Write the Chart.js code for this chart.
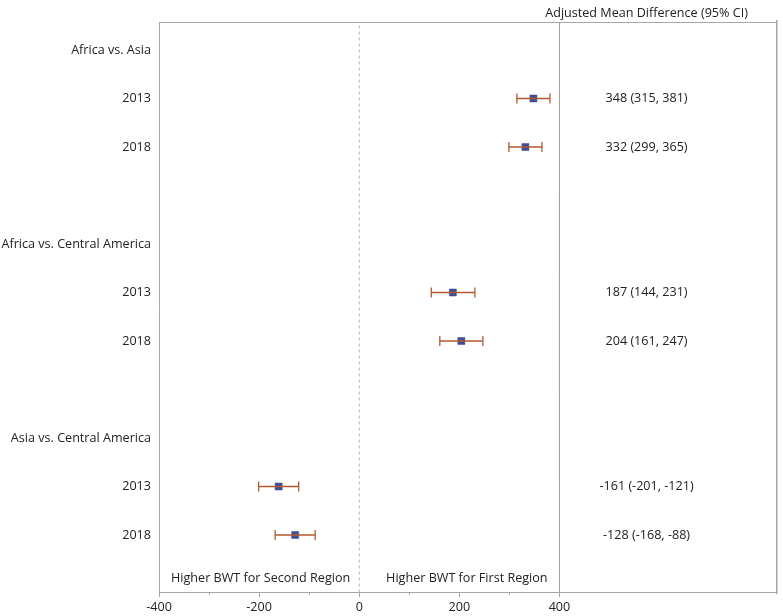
<!DOCTYPE html>
<html>
<head>
<meta charset="utf-8">
<script src="https://cdn.jsdelivr.net/npm/chart.js@4"></script>
<style>
  body { margin: 0; background: #fff; overflow: hidden; }
  canvas { display: block; }
</style>
</head>
<body>
<canvas id="forest" width="783" height="616"></canvas>
<script>
// comparisons and years
const groups = ['Africa vs. Asia', 'Africa vs. Central America', 'Asia vs. Central America'];
const years = ['2013', '2018'];

// adjusted mean difference and 95% CI, in order group/year
const meanDiff = [348, 332, 187, 204, -161, -128];
const lowerCI = [315, 299, 144, 161, -201, -168];
const upperCI = [381, 365, 231, 247, -121, -88];

const xTicks = [-400, -200, 0, 200, 400];
const xMinorTicks = [-300, -100, 100, 300];
const xMin = -400;
const xMax = 834;

const header = 'Adjusted Mean Difference (95% CI)';
const leftNote = 'Higher BWT for Second Region';
const rightNote = 'Higher BWT for First Region';

const fontFamily = '"Open Sans", "DejaVu Sans", sans-serif';
const fontSize = 12.6;
const textColor = '#222222';
const frameColor = '#a6a6a6';

// row layout: group heading, then one row per year, then a blank row
const rowLabels = [];
const rowOf = [];
groups.forEach((g, gi) => {
  rowLabels.push(g);
  years.forEach((y, yi) => {
    rowOf.push(rowLabels.length);
    rowLabels.push(y);
  });
  if (gi < groups.length - 1) rowLabels.push('');
});

const ciText = meanDiff.map((m, i) => `${m} (${lowerCI[i]}, ${upperCI[i]})`);

const datasets = [];

// reference lines at 0 (dashed) and 400 (solid), right frame edge
datasets.push({
  data: [{ x: 0, y: -1 }, { x: 0, y: 12 }],
  showLine: true, borderColor: '#b4b4b4', borderWidth: 1, borderDash: [3, 3],
  pointRadius: 0
});
datasets.push({
  data: [{ x: 400, y: -1 }, { x: 400, y: 12 }],
  showLine: true, borderColor: frameColor, borderWidth: 1,
  pointRadius: 0
});
datasets.push({
  data: [{ x: xMax, y: -1 }, { x: xMax, y: 12 }],
  showLine: true, borderColor: frameColor, borderWidth: 1,
  pointRadius: 0, clip: 2
});

// CI bars with caps
meanDiff.forEach((m, i) => {
  datasets.push({
    data: [{ x: lowerCI[i], y: rowOf[i] }, { x: upperCI[i], y: rowOf[i] }],
    showLine: true,
    borderColor: '#b3582f',
    borderWidth: 1.3,
    pointStyle: 'line',
    rotation: 90,
    pointRadius: 5,
    pointBorderColor: '#b3582f',
    pointBorderWidth: 1.3
  });
});

// point estimates
datasets.push({
  data: meanDiff.map((m, i) => ({ x: m, y: rowOf[i] })),
  pointStyle: 'rect',
  pointRadius: 5,
  backgroundColor: '#3f4f95',
  borderColor: '#3f4f95',
  borderWidth: 0.5
});

const textPlugin = {
  id: 'textColumn',
  afterDatasetsDraw(chart) {
    const ctx = chart.ctx;
    const xs = chart.scales.x;
    const ys = chart.scales.y;
    const colX = xs.getPixelForValue(574);
    ctx.save();
    ctx.fillStyle = textColor;
    ctx.font = fontSize + 'px ' + fontFamily;
    ctx.textAlign = 'center';
    ctx.textBaseline = 'middle';
    ctx.fillText(header, colX, 13);
    ciText.forEach((t, i) => {
      ctx.fillText(t, colX, ys.getPixelForValue(rowOf[i]));
    });
    const noteY = ys.getPixelForValue(10.9);
    ctx.fillText(leftNote, xs.getPixelForValue(-197), noteY);
    ctx.fillText(rightNote, xs.getPixelForValue(215), noteY);
    ctx.restore();
  }
};

const flatX = (h) => (scale) => { scale.height = h; scale.paddingLeft = 0; scale.paddingRight = 0; };

new Chart(document.getElementById('forest'), {
  type: 'scatter',
  data: { datasets: datasets },
  options: {
    responsive: false,
    animation: false,
    layout: { padding: { top: 22, right: 1, left: 0, bottom: 0 } },
    plugins: {
      legend: { display: false },
      tooltip: { enabled: false }
    },
    scales: {
      x: {
        type: 'linear',
        position: 'bottom',
        weight: 1,
        min: xMin,
        max: xMax,
        afterBuildTicks: (scale) => { scale.ticks = xTicks.map(v => ({ value: v })); },
        afterFit: flatX(24),
        ticks: {
          color: textColor,
          font: { family: fontFamily, size: fontSize },
          padding: 3,
          maxRotation: 0,
          autoSkip: false
        },
        grid: { drawOnChartArea: false, drawTicks: true, tickLength: 5, color: frameColor },
        border: { color: frameColor }
      },
      xMinor: {
        type: 'linear',
        position: 'bottom',
        weight: 0,
        min: xMin,
        max: xMax,
        afterBuildTicks: (scale) => { scale.ticks = xMinorTicks.map(v => ({ value: v })); },
        afterFit: flatX(0),
        ticks: { display: false },
        grid: { drawOnChartArea: false, drawTicks: true, tickLength: 3, color: frameColor },
        border: { display: false }
      },
      xTop: {
        type: 'linear',
        position: 'top',
        min: xMin,
        max: xMax,
        afterFit: flatX(0),
        ticks: { display: false },
        grid: { display: false },
        border: { color: frameColor }
      },
      y: {
        type: 'linear',
        reverse: true,
        min: -0.577,
        max: 11.175,
        afterBuildTicks: (scale) => { scale.ticks = rowLabels.map((l, i) => ({ value: i })); },
        afterFit: (scale) => { scale.width = 159; scale.paddingTop = 0; scale.paddingBottom = 0; },
        ticks: {
          autoSkip: false,
          padding: 8,
          color: textColor,
          font: { family: fontFamily, size: fontSize },
          callback: (v) => rowLabels[v] || ''
        },
        grid: { display: false, drawTicks: false },
        border: { color: frameColor }
      }
    }
  },
  plugins: [textPlugin]
});
</script>
</body>
</html>
